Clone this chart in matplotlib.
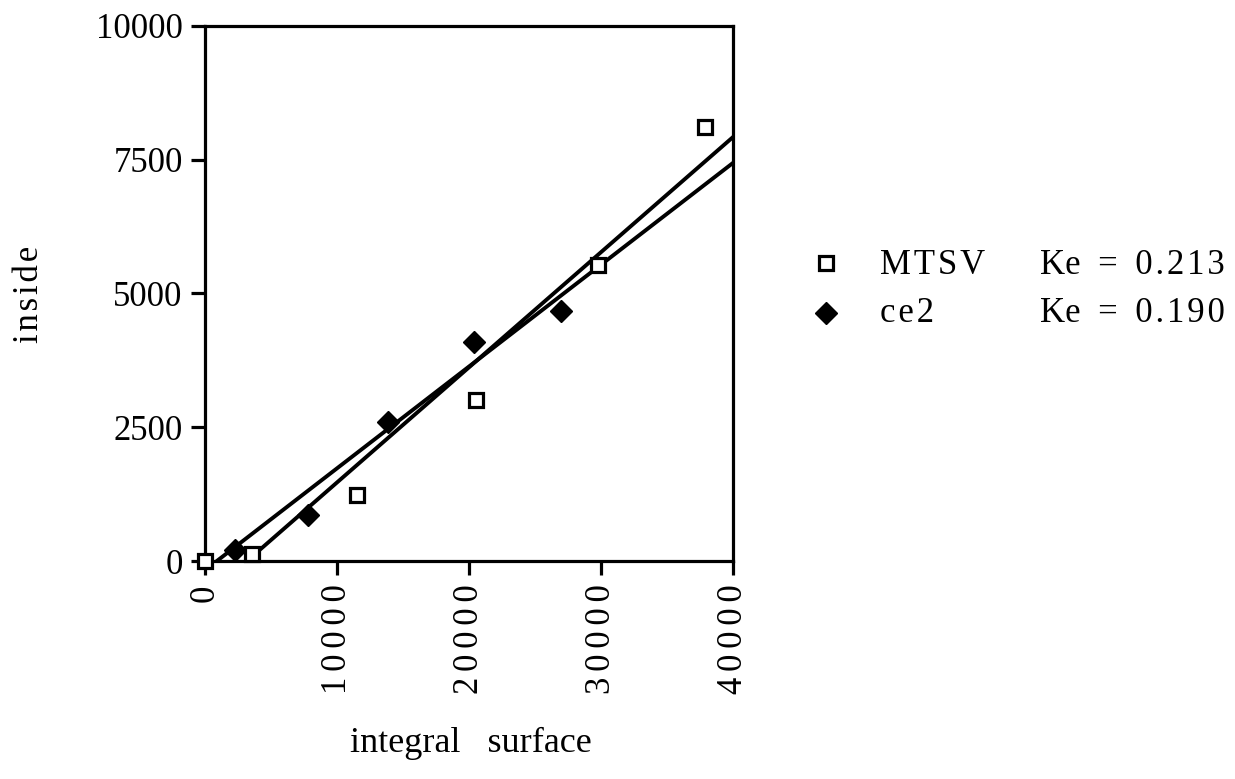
import matplotlib
matplotlib.use("Agg")
import matplotlib.pyplot as plt
import numpy as np

plt.rcParams['font.family'] = ['Liberation Serif', 'DejaVu Serif']

# Data
mtsv_x = [0, 3550, 11500, 20500, 29800, 37900]
mtsv_y = [0, 130, 1240, 3010, 5540, 8110]
ce2_x = [2270, 7800, 13900, 20400, 27000]
ce2_y = [205, 860, 2600, 4100, 4680]

# Fit lines (slope, intercept) as drawn
mtsv_fit = (0.2152, -684)
ce2_fit = (0.1903, -171)

xticks = [0, 10000, 20000, 30000, 40000]
yticks = [0, 2500, 5000, 7500, 10000]

HS = '\u200a'


def spaced(s, sep=HS):
    return sep.join(s)


FS = 25
W, H = 1235, 779

fig = plt.figure(figsize=(12.35, 7.79), dpi=100)
ax = fig.add_axes([205 / W, 1 - 561 / H, 528 / W, 535 / H])

for (k, b) in (mtsv_fit, ce2_fit):
    x0 = -b / k
    xs = np.array([x0, 40000])
    ax.plot(xs, k * xs + b, color='black', lw=2.8, zorder=2)

ax.plot(mtsv_x, mtsv_y, linestyle='none', marker='s', ms=10.5, mfc='white',
        mec='black', mew=2.3, clip_on=False, zorder=4)
ax.plot(ce2_x, ce2_y, linestyle='none', marker='D', ms=11, mfc='black',
        mec='black', clip_on=False, zorder=3)

ax.set_xlim(0, 40000)
ax.set_ylim(0, 10000)
ax.set_xticks(xticks)
ax.set_yticks(yticks)
ax.set_xticklabels([spaced(str(v), HS + HS) for v in xticks], rotation=90, fontsize=FS)
ax.set_yticklabels([str(v) for v in yticks], fontsize=FS)
ax.tick_params(axis='both', direction='out', length=10, width=2.3, pad=7)
ax.tick_params(axis='y', pad=6)
for s in ax.spines.values():
    s.set_linewidth(2.3)

fig.text(471 / W, 1 - 752 / H, 'integral   surface',
         ha='center', va='baseline', fontsize=26)
fig.text(30 / W, 1 - 294 / H, spaced('inside'), ha='center', va='center',
         rotation=90, fontsize=FS)

# Legend
fig.lines.append(plt.Line2D([826 / W], [1 - 263 / H], transform=fig.transFigure,
                            marker='s', ms=10.5, mfc='white', mec='black', mew=2.3, ls='none'))
fig.lines.append(plt.Line2D([826 / W], [1 - 313 / H], transform=fig.transFigure,
                            marker='D', ms=11, mfc='black', mec='black', ls='none'))
fig.text(880 / W, 1 - 265 / H, spaced('MTSV'), ha='left', va='center', fontsize=FS)
fig.text(880 / W, 1 - 314 / H, spaced('ce2'), ha='left', va='center', fontsize=FS)
fig.text(1040 / W, 1 - 265 / H, 'Ke  =  ' + spaced('0.213'), ha='left', va='center', fontsize=FS)
fig.text(1040 / W, 1 - 314 / H, 'Ke  =  ' + spaced('0.190'), ha='left', va='center', fontsize=FS)

fig.savefig('out.png', dpi=100)
